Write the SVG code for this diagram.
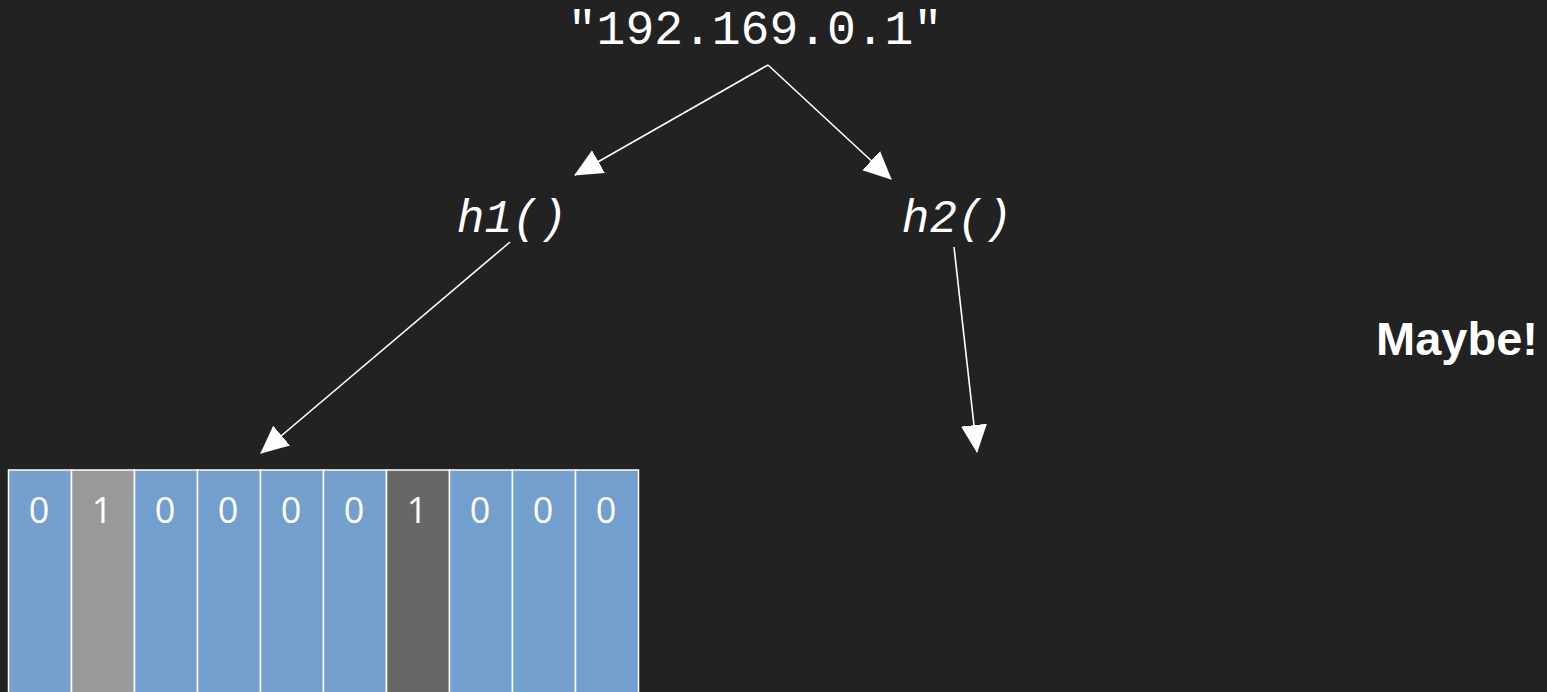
<svg xmlns="http://www.w3.org/2000/svg" width="1547" height="692" viewBox="0 0 1547 692">
<defs>
<style>
.mono{font-family:"Liberation Mono","DejaVu Sans Mono",monospace;fill:#ffffff}
.cell{stroke:#ffffff;stroke-width:1.5}
.blue{fill:#739fcf}
.g1{fill:#999999}
.g2{fill:#676767}
.bit{font-family:"Open Sans","Liberation Sans",sans-serif;font-size:36px;fill:#ffffff;text-anchor:middle}
.conn{stroke:#ffffff;stroke-width:1.6;fill:none;marker-end:url(#ah)}
</style>
<marker id="ah" markerUnits="userSpaceOnUse" markerWidth="28" markerHeight="28" viewBox="0 0 28 26" refX="27" refY="13" orient="auto">
<path d="M0,0 L28,13 L0,26 z" fill="#ffffff"/>
</marker>
</defs>
<rect x="0" y="0" width="1547" height="692" fill="#222222"/>
<g id="ip">
<text class="mono" x="755" y="44" font-size="48" text-anchor="middle">"192.169.0.1"</text>
</g>
<g id="h1">
<text class="mono" x="512" y="232" font-size="46" font-style="italic" text-anchor="middle">h1()</text>
</g>
<g id="h2">
<text class="mono" x="957" y="232" font-size="46" font-style="italic" text-anchor="middle">h2()</text>
</g>
<g id="maybe">
<text x="1457" y="355" font-family="'Liberation Sans',Arial,sans-serif" font-weight="bold" font-size="47" fill="#ffffff" text-anchor="middle">Maybe!</text>
</g>
<g id="connectors">
<line class="conn" x1="768" y1="65" x2="575" y2="175"/>
<line class="conn" x1="768" y1="65" x2="891" y2="179"/>
<line class="conn" x1="510" y1="242" x2="261" y2="453"/>
<line class="conn" x1="954" y1="247" x2="977" y2="452"/>
</g>
<g id="bitarray">
<rect class="cell blue" x="8.5" y="470" width="63" height="230"/>
<rect class="cell g1" x="71.5" y="470" width="63" height="230"/>
<rect class="cell blue" x="134.5" y="470" width="63" height="230"/>
<rect class="cell blue" x="197.5" y="470" width="63" height="230"/>
<rect class="cell blue" x="260.5" y="470" width="63" height="230"/>
<rect class="cell blue" x="323.5" y="470" width="63" height="230"/>
<rect class="cell g2" x="386.5" y="470" width="63" height="230"/>
<rect class="cell blue" x="449.5" y="470" width="63" height="230"/>
<rect class="cell blue" x="512.5" y="470" width="63" height="230"/>
<rect class="cell blue" x="575.5" y="470" width="63" height="230"/>
<text class="bit" x="39" y="523">0</text>
<text class="bit" x="102" y="523">1</text>
<text class="bit" x="165" y="523">0</text>
<text class="bit" x="228" y="523">0</text>
<text class="bit" x="291" y="523">0</text>
<text class="bit" x="354" y="523">0</text>
<text class="bit" x="417" y="523">1</text>
<text class="bit" x="480" y="523">0</text>
<text class="bit" x="543" y="523">0</text>
<text class="bit" x="606" y="523">0</text>
</g>
</svg>
